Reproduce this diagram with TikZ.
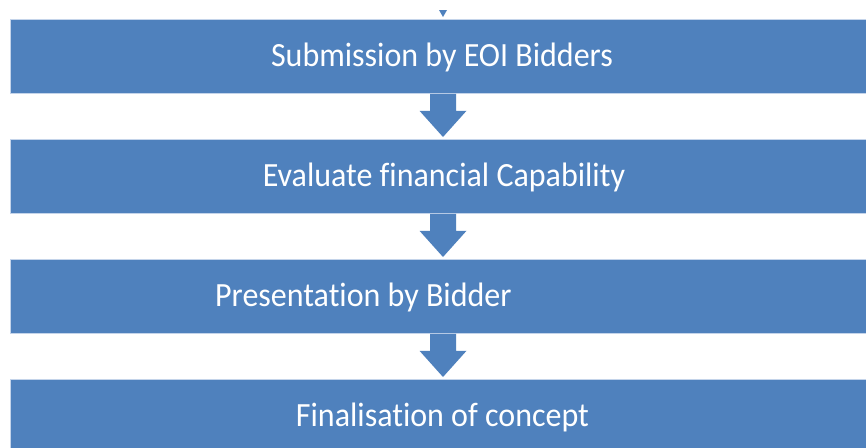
\documentclass[tikz,border=0pt]{standalone}
\usepackage{fontspec}
\setmainfont{Carlito}[Ligatures={NoCommon,NoDiscretionary,NoRare,NoContextual}]
\usetikzlibrary{calc}
\definecolor{boxblue}{RGB}{79,129,189}
\definecolor{edgeblue}{RGB}{196,212,234}
\tikzset{
  box/.style={rectangle, fill=boxblue, draw=edgeblue, line width=0.8pt,
    minimum width=858pt, minimum height=74pt, inner sep=0pt, anchor=north west},
  lbl/.style={text=white, font=\fontsize{32}{38}\selectfont, inner sep=0pt, yscale=1.06},
  blockarrow/.style={fill=boxblue, draw=none}
}
\begin{document}
\begin{tikzpicture}[x=1pt,y=-1pt]
\useasboundingbox (0,0) rectangle (866,447);
\clip (0,0) rectangle (866,447);
\fill[white] (0,0) rectangle (866,447);
% boxes
\node[box] (b1) at (10,19) {};
\node[box] (b2) at (10,139) {};
\node[box] (b3) at (10,259) {};
\node[box, minimum height=90pt] (b4) at (10,379) {};
% labels
\node[lbl] (t1) at (442,57) {Submission by EOI Bidders};
\node[lbl] (t2) at (444,177) {Evaluate financial Capability};
\node[lbl, anchor=west] (t3) at (215,297) {Presentation by Bidder};
\node[lbl] (t4) at (442.5,417) {Finalisation of concept};
% arrow axis coordinates
\coordinate (ax) at (443,0);
% top partial arrow tip
\coordinate (top0) at (443,10);
\fill[blockarrow] ($(top0)+(-4,0)$) -- ($(top0)+(4,0)$) -- ($(b1.north -| ax)+(0,-2)$) -- cycle;
% block arrows between boxes
\foreach \from/\to in {b1/b2, b2/b3, b3/b4}{
  \fill[blockarrow]
    ($(\from.south -| ax)+(-13,0)$) -- ($(\from.south -| ax)+(-13,17)$)
    -- ($(\from.south -| ax)+(-23.5,17)$) -- ($(\to.north -| ax)+(0,-2)$)
    -- ($(\from.south -| ax)+(23.5,17)$) -- ($(\from.south -| ax)+(13,17)$)
    -- ($(\from.south -| ax)+(13,0)$) -- cycle;
}
\end{tikzpicture}
\end{document}
